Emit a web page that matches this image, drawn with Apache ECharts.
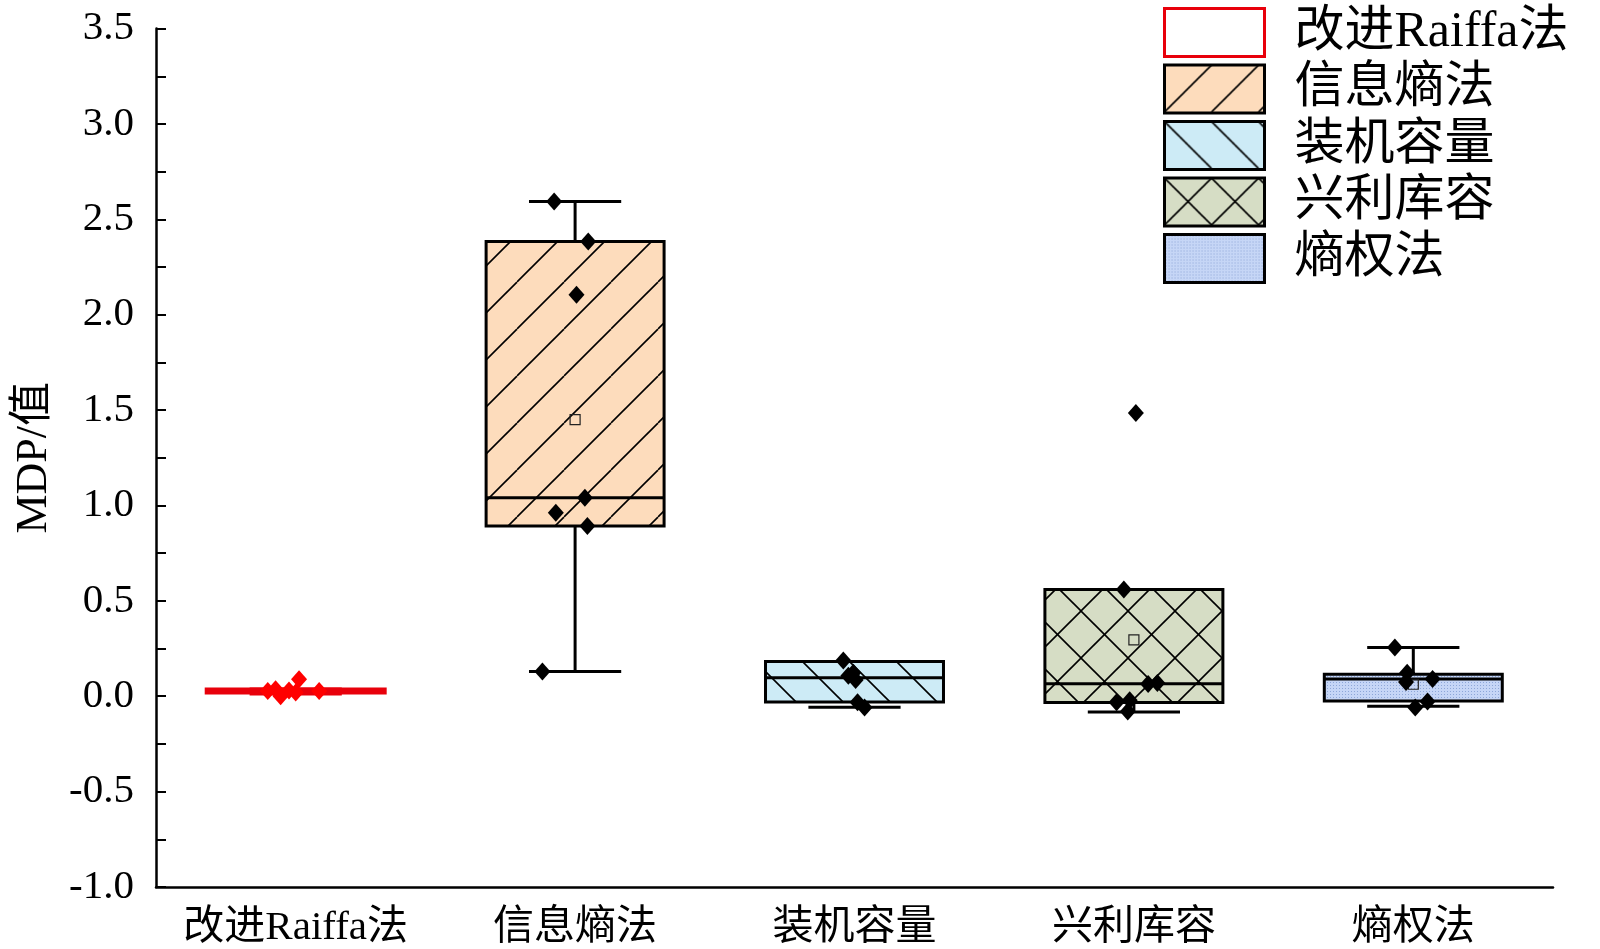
<!DOCTYPE html>
<html>
<head>
<meta charset="utf-8">
<script src="https://cdn.jsdelivr.net/npm/echarts@6/dist/echarts.min.js"></script>
<style>
html,body{margin:0;padding:0;background:#fff;}
#chart{width:1600px;height:949px;}
</style>
</head>
<body>
<div id="chart"></div>
<script>
// ---- data ----
const categories = ['改进Raiffa法', '信息熵法', '装机容量', '兴利库容', '熵权法'];
const yTicks = [-1.0, -0.5, 0.0, 0.5, 1.0, 1.5, 2.0, 2.5, 3.0, 3.5];
// box stats: [lowerWhisker, Q1, median, Q3, upperWhisker]
const boxRaiffa = [0.015, 0.02, 0.028, 0.035, 0.035];
const boxEntropyInfo = [0.13, 0.892, 1.04, 2.384, 2.593];
const boxCapacity = [-0.058, -0.03, 0.097, 0.182, 0.182];
const boxStorage = [-0.082, -0.033, 0.066, 0.56, 0.56];
const boxEntropyWeight = [-0.052, -0.025, 0.09, 0.115, 0.255];
const means = [null, 1.45, null, 0.295, 0.063];
// raw points per category and horizontal jitter (category units)
const ptsRaiffa = [0.089, 0.037, 0.0, 0.028, 0.03, 0.028, 0.02];
const jitRaiffa = [0.012, -0.072, -0.054, -0.10, -0.024, 0.084, 0.0];
const ptsEntropyInfo = [2.593, 2.384, 2.105, 1.04, 0.962, 0.892, 0.13];
const jitEntropyInfo = [-0.075, 0.047, 0.005, 0.035, -0.069, 0.044, -0.117];
const ptsCapacity = [0.187, 0.123, 0.107, 0.085, -0.032, -0.059];
const jitCapacity = [-0.04, -0.004, -0.022, 0.004, 0.011, 0.036];
const ptsStorage = [1.485, 0.56, 0.064, 0.069, -0.032, -0.021, -0.08];
const jitStorage = [0.007, -0.036, 0.051, 0.084, -0.062, -0.015, -0.022];
const ptsEntropyWeight = [0.256, 0.123, 0.075, 0.091, -0.027, -0.059];
const jitEntropyWeight = [-0.066, -0.022, -0.026, 0.069, 0.051, 0.007];

const boxes = [boxRaiffa, boxEntropyInfo, boxCapacity, boxStorage, boxEntropyWeight];
const points = [ptsRaiffa, ptsEntropyInfo, ptsCapacity, ptsStorage, ptsEntropyWeight];
const jitters = [jitRaiffa, jitEntropyInfo, jitCapacity, jitStorage, jitEntropyWeight];

// ---- patterns ----
function hatch(bg, kind, size) {
  const c = document.createElement('canvas');
  c.width = size; c.height = size;
  const g = c.getContext('2d');
  g.fillStyle = bg; g.fillRect(0, 0, size, size);
  g.strokeStyle = '#000'; g.lineWidth = 1.6;
  for (let k = -1; k <= 1; k++) {
    if (kind === '/' || kind === 'x') {
      g.beginPath(); g.moveTo(k * size, size); g.lineTo(k * size + size, 0); g.stroke();
    }
    if (kind === '\\' || kind === 'x') {
      g.beginPath(); g.moveTo(k * size, 0); g.lineTo(k * size + size, size); g.stroke();
    }
  }
  return { image: c, repeat: 'repeat' };
}
function dots(bg, dot) {
  const c = document.createElement('canvas');
  c.width = 3; c.height = 3;
  const g = c.getContext('2d');
  g.fillStyle = bg; g.fillRect(0, 0, 3, 3);
  g.fillStyle = dot; g.fillRect(1, 1, 1, 1);
  return { image: c, repeat: 'repeat' };
}
const fills = [
  '#ffffff',
  hatch('#fddcbc', '/', 47),
  hatch('#cdebf6', '\\', 47),
  hatch('#d6ddc5', 'x', 47),
  dots('#c6d6f6', '#8ea7d8')
];
const strokes = ['#e8000b', '#000', '#000', '#000', '#000'];
const pointColors = ['#ff0000', '#000', '#000', '#000', '#000'];

const FONT = '"Liberation Serif", "Noto Sans CJK SC", serif';

function renderBox(params, api) {
  const idx = api.value(0);
  const lo = api.value(1), q1 = api.value(2), med = api.value(3), q3 = api.value(4), hi = api.value(5);
  const mean = api.value(6);
  const unit = api.size([1, 0])[0];
  const w = unit * 0.637, cw = unit * 0.33;
  const cx = api.coord([idx, 0])[0];
  const y = v => api.coord([idx, v])[1];
  const col = strokes[idx];
  const lw = idx === 0 ? 4 : 3;
  const ls = { stroke: col, lineWidth: lw, fill: null };
  const ch = [];
  ch.push({ type: 'line', shape: { x1: cx, y1: y(q3), x2: cx, y2: y(hi) }, style: ls });
  ch.push({ type: 'line', shape: { x1: cx, y1: y(q1), x2: cx, y2: y(lo) }, style: ls });
  ch.push({ type: 'line', shape: { x1: cx - cw / 2, y1: y(hi), x2: cx + cw / 2, y2: y(hi) }, style: ls });
  ch.push({ type: 'line', shape: { x1: cx - cw / 2, y1: y(lo), x2: cx + cw / 2, y2: y(lo) }, style: ls });
  ch.push({ type: 'rect', shape: { x: cx - w / 2, y: y(q3), width: w, height: y(q1) - y(q3) },
    style: { fill: fills[idx], stroke: col, lineWidth: lw } });
  ch.push({ type: 'line', shape: { x1: cx - w / 2, y1: y(med), x2: cx + w / 2, y2: y(med) }, style: ls });
  if (mean != null && !isNaN(mean)) {
    ch.push({ type: 'rect', shape: { x: cx - 5, y: y(mean) - 5, width: 10, height: 10 },
      style: { fill: null, stroke: '#222', lineWidth: 1.2 } });
  }
  return { type: 'group', children: ch };
}

const series = [];
categories.forEach((name, i) => {
  series.push({
    name: name,
    type: 'custom',
    xAxisIndex: 0, yAxisIndex: 0,
    renderItem: renderBox,
    encode: { x: 0, y: [1, 2, 3, 4, 5] },
    itemStyle: { color: fills[i], borderColor: strokes[i], borderWidth: 3 },
    data: [[i].concat(boxes[i]).concat([means[i]])],
    z: 2,
    silent: true
  });
});
categories.forEach((name, i) => {
  series.push({
    type: 'scatter',
    xAxisIndex: 1, yAxisIndex: 0,
    symbol: 'diamond',
    symbolSize: [16, 18],
    itemStyle: { color: pointColors[i], opacity: 1 },
    data: points[i].map((v, k) => [i + jitters[i][k], v]),
    z: 5,
    silent: true
  });
});

const chart = echarts.init(document.getElementById('chart'));
chart.setOption({
  animation: false,
  backgroundColor: '#fff',
  grid: { left: 156, right: 47, top: 28.6, bottom: 61 },
  legend: {
    orient: 'vertical',
    left: 1158, top: 2,
    icon: 'rect',
    itemWidth: 100, itemHeight: 48,
    itemGap: 5.5,
    selectedMode: false,
    textStyle: { fontFamily: FONT, fontSize: 50, color: '#000', lineHeight: 48, padding: [0, 0, 0, 25] },
    data: categories.map((n, i) => ({
      name: n,
      itemStyle: { color: fills[i], borderColor: i === 0 ? '#e8000b' : '#000', borderWidth: 3 }
    }))
  },
  xAxis: [{
    type: 'category',
    data: categories,
    boundaryGap: true,
    axisLine: { onZero: false, lineStyle: { color: '#000', width: 2.5 } },
    axisTick: { inside: true, length: 18, alignWithLabel: true, lineStyle: { color: '#000', width: 2.5 } },
    axisLabel: { interval: 0, fontFamily: FONT, fontSize: 41, color: '#000', margin: 21 },
    splitLine: { show: false }
  }, {
    type: 'value', min: -0.5, max: 4.5, show: false,
    axisLine: { onZero: false }
  }],
  yAxis: {
    type: 'value',
    min: yTicks[0], max: yTicks[yTicks.length - 1], interval: 0.5,
    name: 'MDP/值',
    nameLocation: 'middle',
    nameGap: 100,
    nameTextStyle: { fontFamily: FONT, fontSize: 44, color: '#000' },
    axisLine: { show: true, onZero: false, lineStyle: { color: '#000', width: 2.5 } },
    axisTick: { show: true, inside: true, length: 10, lineStyle: { color: '#000', width: 2 } },
    minorTick: { show: true, splitNumber: 2, length: 10, lineStyle: { color: '#000', width: 2 } },
    axisLabel: { fontFamily: FONT, fontSize: 41, color: '#000', margin: 22, formatter: v => v.toFixed(1) },
    splitLine: { show: false }
  },
  series: series
});
</script>
</body>
</html>
